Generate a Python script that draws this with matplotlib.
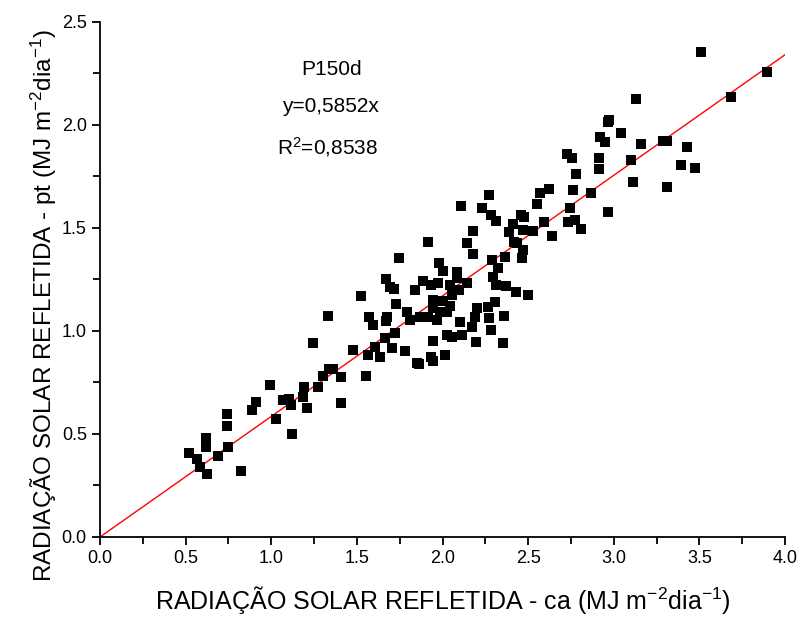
import numpy as np
import matplotlib
matplotlib.use("Agg")
import matplotlib.pyplot as plt
from matplotlib.ticker import MultipleLocator, FormatStrFormatter

# radiacao solar refletida: ca (x) vs pt (y), MJ m-2 dia-1
x_ca = [0.52, 0.565, 0.617, 0.619, 0.584, 0.623, 0.69, 0.746, 0.74, 0.74,
        0.823, 0.889, 0.909, 0.993, 1.028, 1.07, 1.105, 1.117, 1.121, 1.191,
        1.187, 1.207, 1.271, 1.304, 1.339, 1.362, 1.406, 1.406, 1.242, 1.48,
        1.553,
        1.917, 1.746, 1.981, 1.670, 1.693, 1.717, 1.839, 1.888, 1.931, 1.975,
        1.522, 1.727, 1.946, 1.946, 1.791, 1.810, 1.869, 1.917, 1.970, 1.333,
        1.573, 1.596, 1.674, 1.668, 1.723, 1.664, 1.606, 1.567, 1.635, 1.703,
        1.781, 1.943, 1.933, 1.943, 1.849, 1.865,
        2.272, 2.569, 2.622, 2.764, 2.865, 2.106, 2.229, 2.550, 2.283, 2.312,
        2.457, 2.478, 2.413, 2.593, 2.745, 2.735, 2.774, 2.809, 2.390, 2.472,
        2.530, 2.638, 2.180, 2.141, 2.180, 2.419, 2.433, 2.472, 2.462, 2.365,
        2.287, 2.001, 2.083, 2.086, 2.141, 2.326, 2.293, 2.312, 2.371, 2.429,
        2.497, 2.044, 2.098, 2.054, 2.005, 2.044, 1.985, 2.024, 2.307, 2.268,
        2.200, 2.190, 2.170, 2.102, 2.273, 2.361, 2.281, 2.024, 2.054, 2.112,
        2.196, 2.352, 2.015,
        3.508, 3.897, 3.685, 3.130, 2.974, 2.968, 3.041, 2.920, 2.949, 3.157,
        3.29, 3.31, 3.426, 2.725, 2.754, 2.914, 3.099, 2.916, 2.778, 3.393,
        3.474, 3.110, 3.311, 2.965]
y_pt = [0.41, 0.377, 0.479, 0.435, 0.341, 0.304, 0.393, 0.435, 0.597, 0.539,
        0.319, 0.617, 0.657, 0.738, 0.573, 0.665, 0.668, 0.641, 0.50, 0.727,
        0.681, 0.628, 0.727, 0.782, 0.814, 0.814, 0.778, 0.649, 0.943, 0.908,
        0.783,
        1.433, 1.353, 1.329, 1.251, 1.215, 1.202, 1.199, 1.243, 1.223, 1.234,
        1.170, 1.130, 1.150, 1.110, 1.094, 1.053, 1.067, 1.067, 1.053, 1.073,
        1.067, 1.029, 1.069, 1.050, 0.992, 0.965, 0.924, 0.883, 0.872, 0.919,
        0.903, 0.951, 0.875, 0.856, 0.846, 0.838,
        1.660, 1.671, 1.688, 1.684, 1.668, 1.608, 1.596, 1.617, 1.563, 1.535,
        1.563, 1.555, 1.518, 1.531, 1.599, 1.531, 1.539, 1.495, 1.482, 1.490,
        1.485, 1.461, 1.487, 1.426, 1.374, 1.433, 1.426, 1.393, 1.353, 1.361,
        1.345, 1.293, 1.288, 1.256, 1.234, 1.304, 1.261, 1.223, 1.218, 1.191,
        1.175, 1.223, 1.199, 1.175, 1.147, 1.121, 1.094, 1.094, 1.142, 1.118,
        1.110, 1.069, 1.021, 1.045, 1.062, 1.073, 1.005, 0.981, 0.972, 0.981,
        0.948, 0.940, 0.883,
        2.353, 2.256, 2.134, 2.126, 2.024, 2.016, 1.960, 1.940, 1.916, 1.906,
        1.924, 1.924, 1.892, 1.858, 1.838, 1.838, 1.830, 1.785, 1.762, 1.807,
        1.793, 1.722, 1.698, 1.576]

slope = 0.5852
fit_x = [0.0, 4.0]

plt.rcParams['font.family'] = ['Liberation Sans', 'DejaVu Sans']
plt.rcParams['mathtext.default'] = 'regular'

fig = plt.figure(figsize=(8.02, 6.19), dpi=100)
ax = fig.add_axes([0.1247, 0.1325, 0.8541, 0.832])

ax.scatter(x_ca, y_pt, marker='s', s=55, color='black', linewidths=0, zorder=3)
ax.plot(fit_x, [slope * v for v in fit_x], color='red', lw=1, zorder=2)

ax.set_xlim(0, 4.0)
ax.set_ylim(0, 2.5)
ax.xaxis.set_major_locator(MultipleLocator(0.5))
ax.xaxis.set_minor_locator(MultipleLocator(0.25))
ax.yaxis.set_major_locator(MultipleLocator(0.5))
ax.yaxis.set_minor_locator(MultipleLocator(0.25))
ax.xaxis.set_major_formatter(FormatStrFormatter('%.1f'))
ax.yaxis.set_major_formatter(FormatStrFormatter('%.1f'))

for s in ['top', 'right']:
    ax.spines[s].set_visible(False)
for s in ['left', 'bottom']:
    ax.spines[s].set_linewidth(1.3)

ax.tick_params(which='major', direction='out', length=6, width=1.3, labelsize=13)
ax.tick_params(which='minor', direction='out', length=5, width=1.3)

ax.set_xlabel('RADIAÇÃO SOLAR REFLETIDA - ca (MJ m$^{-2}$dia$^{-1}$)',
              fontsize=18, labelpad=12)
ax.set_ylabel('RADIAÇÃO SOLAR REFLETIDA - pt (MJ m$^{-2}$dia$^{-1}$)',
              fontsize=17.5)
ax.yaxis.set_label_coords(-0.06, 0.45)

ax.text(1.355, 2.267, 'P150d', fontsize=15, ha='center', va='center')
ax.text(1.345, 2.092, 'y=0,5852x', fontsize=15, ha='center', va='center')
ax.text(1.33, 1.893, 'R$^2$=0,8538', fontsize=15, ha='center', va='center')

fig.savefig('out.png', dpi=100)
